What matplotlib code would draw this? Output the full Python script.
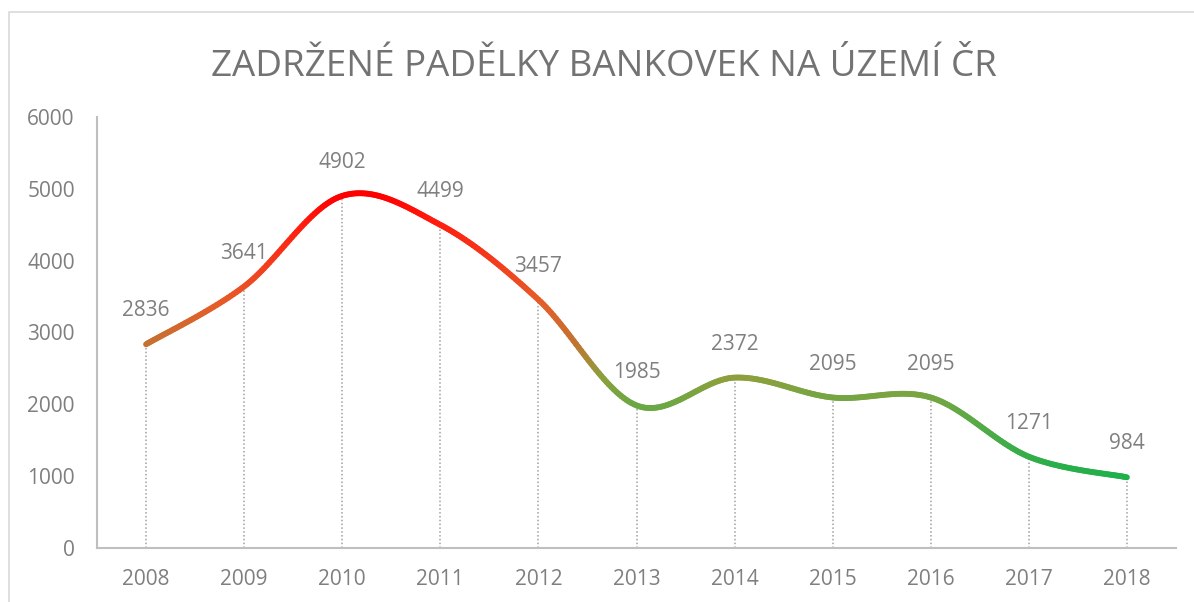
import numpy as np
import matplotlib.pyplot as plt
from matplotlib.collections import LineCollection
from matplotlib.colors import LinearSegmentedColormap
from matplotlib.patches import Rectangle

plt.rcParams['font.family'] = ['Open Sans', 'DejaVu Sans']

# data
roky = ['2008', '2009', '2010', '2011', '2012', '2013', '2014', '2015', '2016', '2017', '2018']
padelky = [2836, 3641, 4902, 4499, 3457, 1985, 2372, 2095, 2095, 1271, 984]
titulek = 'ZADRŽENÉ PADĚLKY BANKOVEK NA ÚZEMÍ ČR'

seda = '#7f7f7f'
osa = '#bfbfbf'

# barevny prechod podle hodnoty (zelena dole, cervena nahore)
cmap = LinearSegmentedColormap.from_list('zr', [
    (0.00, '#1fb04b'),
    (0.25, '#6aa845'),
    (0.35, '#8ca03c'),
    (0.47, '#c37332'),
    (0.63, '#e85a28'),
    (0.90, '#ff1e0f'),
    (1.00, '#ff0000'),
])
vmin, vmax = 984, 4902


def catmull_rom(x, y, n=40):
    # hladka cara jako "vyhlazena cara" v Excelu
    px = np.concatenate([[x[0]], x, [x[-1]]])
    py = np.concatenate([[y[0]], y, [y[-1]]])
    xs, ys = [], []
    t = np.linspace(0, 1, n)
    for i in range(1, len(px) - 2):
        p0, p1, p2, p3 = [np.array([px[j], py[j]]) for j in (i - 1, i, i + 1, i + 2)]
        c1 = p1 + (p2 - p0) / 6
        c2 = p2 - (p3 - p1) / 6
        b = ((1 - t) ** 3)[:, None] * p1 + (3 * (1 - t) ** 2 * t)[:, None] * c1 \
            + (3 * (1 - t) * t ** 2)[:, None] * c2 + (t ** 3)[:, None] * p2
        xs.extend(b[:, 0])
        ys.extend(b[:, 1])
    return np.array(xs), np.array(ys)


fig = plt.figure(figsize=(11.94, 6.02), dpi=100)
fig.patches.append(Rectangle((8.5 / 1194, -0.1), 1.2, 1 - 11.5 / 602 + 0.1,
                             transform=fig.transFigure, fill=False,
                             edgecolor='#d9d9d9', linewidth=1.2))

ax = fig.add_axes([97 / 1194, 1 - 548 / 602, (1176 - 97) / 1194, (548 - 117) / 602])

x = np.arange(len(roky))
sx, sy = catmull_rom(x, np.array(padelky, dtype=float))
pts = np.column_stack([sx, sy]).reshape(-1, 1, 2)
segs = np.concatenate([pts[:-1], pts[1:]], axis=1)
mid = (sy[:-1] + sy[1:]) / 2
lc = LineCollection(segs, colors=cmap(np.clip((mid - vmin) / (vmax - vmin), 0, 1)),
                    linewidth=4.2, capstyle='round', zorder=3)
ax.add_collection(lc)

# svisle spojnice k ose
ax.vlines(x, 0, padelky, colors='#a0a0a0', linestyles=(0, (1, 1.5)), linewidth=1.1, zorder=2)

for xi, v in zip(x, padelky):
    ax.annotate(str(v), (xi, v), xytext=(0, 24), textcoords='offset points',
                ha='center', va='center', fontsize=15, color=seda)

ax.set_xlim(-0.5, len(roky) - 0.5)
ax.set_ylim(0, 6000)
ax.set_yticks(range(0, 6001, 1000))
ax.set_xticks(x)
ax.set_xticklabels(roky)

for s in ['top', 'right']:
    ax.spines[s].set_visible(False)
for s in ['left', 'bottom']:
    ax.spines[s].set_color(osa)
    ax.spines[s].set_linewidth(1.5)
ax.tick_params(axis='both', length=0, labelsize=15, labelcolor=seda)
ax.tick_params(axis='y', pad=16)
ax.tick_params(axis='x', pad=15)

fig.text(604 / 1194, 1 - 67 / 602, titulek, ha='center', va='center',
         fontsize=26.5, color='#737373')

fig.savefig('out.png', dpi=100)
